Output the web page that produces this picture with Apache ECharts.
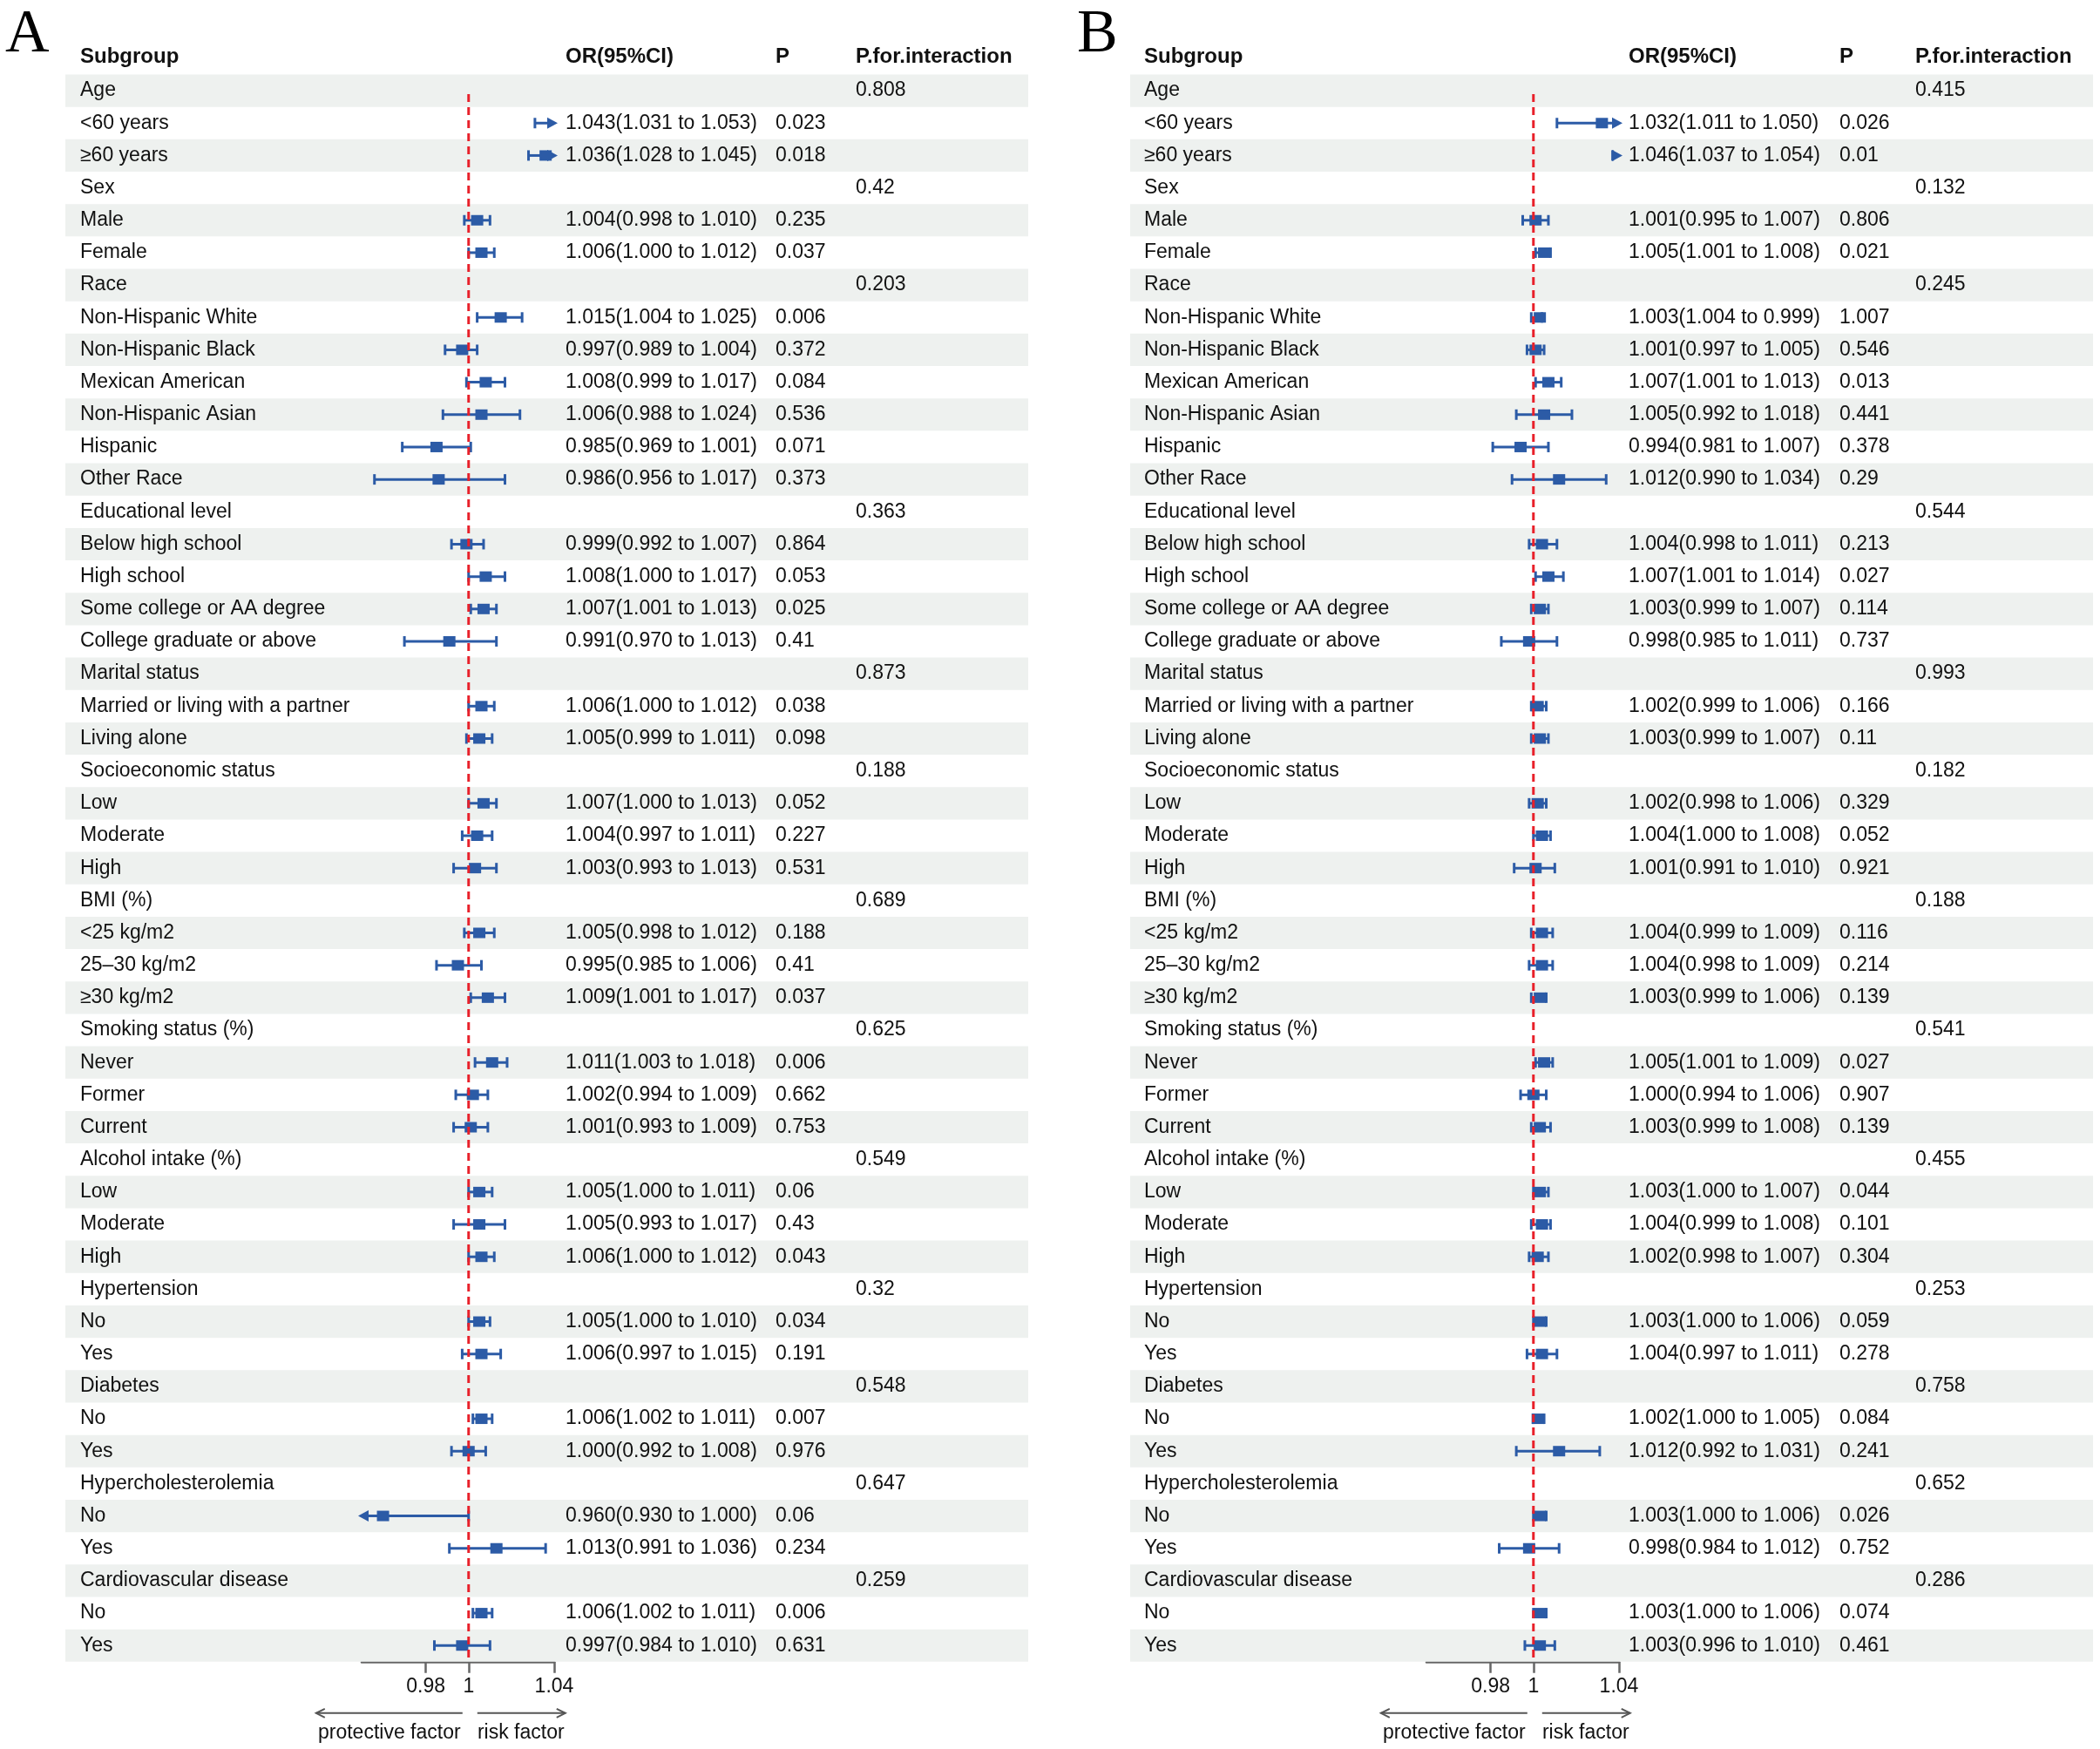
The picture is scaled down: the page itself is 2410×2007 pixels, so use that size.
<!DOCTYPE html>
<html><head><meta charset="utf-8">
<script src="https://cdn.jsdelivr.net/npm/echarts@6/dist/echarts.min.js"></script>
<style>html,body{margin:0;padding:0;background:#fff}#c{width:2410px;height:2007px}</style>
</head><body><div id="c"></div>
<script>
// ---------------- DATA ----------------
const rowLabels = ['Age','<60 years','≥60 years','Sex','Male','Female','Race','Non-Hispanic White','Non-Hispanic Black','Mexican American','Non-Hispanic Asian','Hispanic','Other Race','Educational level','Below high school','High school','Some college or AA degree','College graduate or above','Marital status','Married or living with a partner','Living alone','Socioeconomic status','Low','Moderate','High','BMI (%)','<25 kg/m2','25–30 kg/m2','≥30 kg/m2','Smoking status (%)','Never','Former','Current','Alcohol intake (%)','Low','Moderate','High','Hypertension','No','Yes','Diabetes','No','Yes','Hypercholesterolemia','No','Yes','Cardiovascular disease','No','Yes'];

const A_or = [null,1.043,1.036,null,1.004,1.006,null,1.015,0.997,1.008,1.006,0.985,0.986,null,0.999,1.008,1.007,0.991,null,1.006,1.005,null,1.007,1.004,1.003,null,1.005,0.995,1.009,null,1.011,1.002,1.001,null,1.005,1.005,1.006,null,1.005,1.006,null,1.006,1.000,null,0.960,1.013,null,1.006,0.997];
const A_lo = [null,1.031,1.028,null,0.998,1.000,null,1.004,0.989,0.999,0.988,0.969,0.956,null,0.992,1.000,1.001,0.970,null,1.000,0.999,null,1.000,0.997,0.993,null,0.998,0.985,1.001,null,1.003,0.994,0.993,null,1.000,0.993,1.000,null,1.000,0.997,null,1.002,0.992,null,0.930,0.991,null,1.002,0.984];
const A_hi = [null,1.053,1.045,null,1.010,1.012,null,1.025,1.004,1.017,1.024,1.001,1.017,null,1.007,1.017,1.013,1.013,null,1.012,1.011,null,1.013,1.011,1.013,null,1.012,1.006,1.017,null,1.018,1.009,1.009,null,1.011,1.017,1.012,null,1.010,1.015,null,1.011,1.008,null,1.000,1.036,null,1.011,1.010];
const A_p = ['','0.023','0.018','','0.235','0.037','','0.006','0.372','0.084','0.536','0.071','0.373','','0.864','0.053','0.025','0.41','','0.038','0.098','','0.052','0.227','0.531','','0.188','0.41','0.037','','0.006','0.662','0.753','','0.06','0.43','0.043','','0.034','0.191','','0.007','0.976','','0.06','0.234','','0.006','0.631'];
const A_pint = ['0.808','','','0.42','','','0.203','','','','','','','0.363','','','','','0.873','','','0.188','','','','0.689','','','','0.625','','','','0.549','','','','0.32','','','0.548','','','0.647','','','0.259','',''];

const B_or = [null,1.032,1.046,null,1.001,1.005,null,1.003,1.001,1.007,1.005,0.994,1.012,null,1.004,1.007,1.003,0.998,null,1.002,1.003,null,1.002,1.004,1.001,null,1.004,1.004,1.003,null,1.005,1.000,1.003,null,1.003,1.004,1.002,null,1.003,1.004,null,1.002,1.012,null,1.003,0.998,null,1.003,1.003];
const B_lo = [null,1.011,1.037,null,0.995,1.001,null,1.004,0.997,1.001,0.992,0.981,0.990,null,0.998,1.001,0.999,0.985,null,0.999,0.999,null,0.998,1.000,0.991,null,0.999,0.998,0.999,null,1.001,0.994,0.999,null,1.000,0.999,0.998,null,1.000,0.997,null,1.000,0.992,null,1.000,0.984,null,1.000,0.996];
const B_hi = [null,1.050,1.054,null,1.007,1.008,null,0.999,1.005,1.013,1.018,1.007,1.034,null,1.011,1.014,1.007,1.011,null,1.006,1.007,null,1.006,1.008,1.010,null,1.009,1.009,1.006,null,1.009,1.006,1.008,null,1.007,1.008,1.007,null,1.006,1.011,null,1.005,1.031,null,1.006,1.012,null,1.006,1.010];
const B_p = ['','0.026','0.01','','0.806','0.021','','1.007','0.546','0.013','0.441','0.378','0.29','','0.213','0.027','0.114','0.737','','0.166','0.11','','0.329','0.052','0.921','','0.116','0.214','0.139','','0.027','0.907','0.139','','0.044','0.101','0.304','','0.059','0.278','','0.084','0.241','','0.026','0.752','','0.074','0.461'];
const B_pint = ['0.415','','','0.132','','','0.245','','','','','','','0.544','','','','','0.993','','','0.182','','','','0.188','','','','0.541','','','','0.455','','','','0.253','','','0.758','','','0.652','','','0.286','',''];

const headers = ['Subgroup','OR(95%CI)','P','P.for.interaction'];
const xTickVals = [0.98, 1, 1.04];
const xTickLabels = ['0.98','1','1.04'];
const xMin = 0.95, xMax = 1.04, refValue = 1;
const arrowLabels = ['protective factor','risk factor'];
const panelLetters = ['A','B'];

// ---------------- LAYOUT / STYLE ----------------
const FONT = "'Liberation Sans', Arial, sans-serif";
const FS = 23;
const TXT = '#111';
const BLUE = '#2c5ba6';
const RED = '#e8202a';
const BAND = '#eef1ef';
const GRID_TOP = 85.5, ROW_H = 37.17;
const GRID_H = ROW_H * rowLabels.length;
const panels = [
  {gridLeft: 415, bandL: 75, bandR: 1180, subX: 92, orX: 649, pX: 890, pintX: 982, letterX: 6,
   or: A_or, lo: A_lo, hi: A_hi, p: A_p, pint: A_pint},
  {gridLeft: 1637, bandL: 1297, bandR: 2402, subX: 1313, orX: 1869, pX: 2111, pintX: 2198, letterX: 1236,
   or: B_or, lo: B_lo, hi: B_hi, p: B_p, pint: B_pint}
];
const GRID_W = 221;

function fmt(v){ return v.toFixed(3); }

function txt(text, x, y, bold, align){
  return {type:'text', style:{text:text, x:x, y:y, fill:TXT, fontSize:FS, fontFamily:FONT,
    fontWeight: bold ? 'bold' : 'normal', align: align || 'left', verticalAlign:'middle'}};
}

const chart = echarts.init(document.getElementById('c'), null, {renderer:'canvas'});

const grids = [], xAxes = [], yAxes = [], series = [], graphics = [];
panels.forEach((P, k) => {
  grids.push({left: P.gridLeft, top: GRID_TOP, width: GRID_W, height: GRID_H});
  xAxes.push({
    gridIndex:k, type:'value', min:xMin, max:xMax,
    axisLine:{show:true, lineStyle:{color:'#666', width:2.5}},
    axisTick:{show:true, customValues:xTickVals, length:13, lineStyle:{color:'#666', width:2.5}},
    axisLabel:{show:true, customValues:xTickVals, margin:17, color:TXT, fontSize:FS, fontFamily:FONT,
      formatter:(v)=>{ const j = xTickVals.findIndex(t=>Math.abs(t-v)<1e-9); return j>=0 ? xTickLabels[j] : ''; }},
    splitLine:{show:false}
  });
  yAxes.push({gridIndex:k, type:'category', inverse:true, data: rowLabels.map((_,i)=>String(i)), show:false, boundaryGap:true});

  // table: bands + text columns
  series.push({
    type:'custom', xAxisIndex:k, yAxisIndex:k, z:1, clip:false, silent:true,
    data: rowLabels.map((_, i) => [xMin, i]),
    renderItem: (params, api) => {
      const i = params.dataIndex;
      const y = api.coord([xMin, i])[1];
      const h = api.size([0, 1])[1];
      const ch = [];
      if (i % 2 === 0) ch.push({type:'rect', shape:{x:P.bandL, y:y-h/2, width:P.bandR-P.bandL, height:h}, style:{fill:BAND}});
      ch.push(txt(rowLabels[i], P.subX, y));
      if (P.or[i] !== null) ch.push(txt(fmt(P.or[i]) + '(' + fmt(P.lo[i]) + ' to ' + fmt(P.hi[i]) + ')', P.orX, y));
      if (P.p[i]) ch.push(txt(P.p[i], P.pX, y));
      if (P.pint[i]) ch.push(txt(P.pint[i], P.pintX, y));
      return {type:'group', children:ch};
    }
  });

  // forest marks
  const fdata = [];
  P.or.forEach((v, i) => { if (v !== null) fdata.push([v, i, P.lo[i], P.hi[i]]); });
  series.push({
    type:'custom', xAxisIndex:k, yAxisIndex:k, z:3, clip:false, silent:true,
    encode:{x:0, y:1},
    data: fdata,
    renderItem: (params, api) => {
      const or = api.value(0), i = api.value(1), lo = api.value(2), hi = api.value(3);
      const a = Math.min(lo, hi), b = Math.max(lo, hi);
      const y = api.coord([xMin, i])[1];
      const xl = api.coord([Math.max(a, xMin), i])[0];
      const xh = api.coord([Math.min(b, xMax), i])[0];
      const ch = [];
      ch.push({type:'line', shape:{x1:xl, y1:y, x2:xh, y2:y}, style:{stroke:BLUE, lineWidth:3}});
      if (a < xMin) ch.push({type:'polygon', shape:{points:[[xl-4,y],[xl+8,y-6.5],[xl+8,y+6.5]]}, style:{fill:BLUE}});
      else ch.push({type:'line', shape:{x1:xl, y1:y-6, x2:xl, y2:y+6}, style:{stroke:BLUE, lineWidth:3}});
      if (b > xMax) ch.push({type:'polygon', shape:{points:[[xh+4,y],[xh-8,y-6.5],[xh-8,y+6.5]]}, style:{fill:BLUE}});
      else ch.push({type:'line', shape:{x1:xh, y1:y-6, x2:xh, y2:y+6}, style:{stroke:BLUE, lineWidth:3}});
      if (or >= xMin && or <= xMax) {
        const xo = api.coord([or, i])[0];
        ch.push({type:'rect', shape:{x:xo-7, y:y-6, width:14, height:12}, style:{fill:BLUE}});
      }
      return {type:'group', children:ch};
    }
  });

  // reference line + direction arrows
  series.push({
    type:'custom', xAxisIndex:k, yAxisIndex:k, z:4, clip:false, silent:true,
    data: [[refValue, 0]],
    renderItem: (params, api) => {
      const h = api.size([0, 1])[1];
      const p0 = api.coord([refValue, 0]);
      const pb = api.coord([refValue, rowLabels.length - 1]);
      const x = p0[0], yTop = p0[1] + 4, yBot = pb[1] + h/2;
      const ya = yBot + 59, yt = yBot + 82;
      const g = '#555';
      const ch = [
        {type:'line', shape:{x1:x, y1:yTop, x2:x, y2:yBot}, style:{stroke:RED, lineWidth:3, lineDash:[9,6]}},
        {type:'line', shape:{x1:x-175, y1:ya, x2:x-7, y2:ya}, style:{stroke:g, lineWidth:2}},
        {type:'polyline', shape:{points:[[x-165,ya-5],[x-175,ya],[x-165,ya+5]]}, style:{stroke:g, lineWidth:2, fill:null}},
        {type:'line', shape:{x1:x+10, y1:ya, x2:x+111, y2:ya}, style:{stroke:g, lineWidth:2}},
        {type:'polyline', shape:{points:[[x+101,ya-5],[x+111,ya],[x+101,ya+5]]}, style:{stroke:g, lineWidth:2, fill:null}},
        txt(arrowLabels[0], x-91, yt, false, 'center'),
        txt(arrowLabels[1], x+60, yt, false, 'center')
      ];
      return {type:'group', children:ch};
    }
  });

  // headers + panel letter
  const hy = 66;
  [P.subX, P.orX, P.pX, P.pintX].forEach((hx, j) => {
    graphics.push({type:'text', left:hx, top:hy-13, style:{text:headers[j], fill:TXT, font:'bold 24px ' + FONT}});
  });
  graphics.push({type:'text', left:P.letterX, top:6, style:{text:panelLetters[k], fill:'#000', font:'70px "Liberation Serif", "Times New Roman", serif'}});
});

chart.setOption({
  animation:false,
  backgroundColor:'#fff',
  grid: grids, xAxis: xAxes, yAxis: yAxes, series: series, graphic: graphics
});
</script></body></html>
